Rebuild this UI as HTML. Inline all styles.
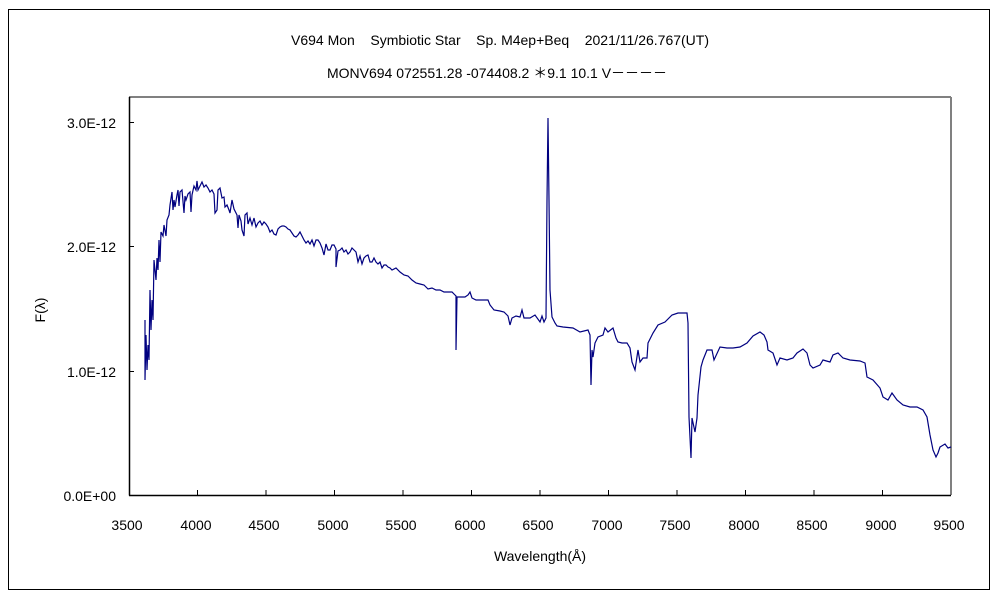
<!DOCTYPE html>
<html><head><meta charset="utf-8"><style>
body{margin:0;background:#fff}
svg text{font-family:"Liberation Sans","Noto Sans CJK JP",sans-serif;fill:#000}
</style></head><body>
<svg width="1000" height="600" xmlns="http://www.w3.org/2000/svg">
<rect x="0" y="0" width="1000" height="600" fill="#fff"/>
<rect x="8.5" y="9.5" width="981" height="580" fill="none" stroke="#000" stroke-width="1"/>
<text x="500" y="45" font-size="14" text-anchor="middle" xml:space="preserve">V694 Mon    Symbiotic Star    Sp. M4ep+Beq    2021/11/26.767(UT)</text>
<text x="497" y="78" font-size="14" text-anchor="middle">MONV694 072551.28 -074408.2 ＊9.1 10.1  V－－－－</text>
<line x1="129" y1="97" x2="951" y2="97" stroke="#808080" stroke-width="2"/>
<line x1="951" y1="97" x2="951" y2="495" stroke="#808080" stroke-width="2"/>
<line x1="129.5" y1="97" x2="129.5" y2="495.5" stroke="#000" stroke-width="1.5"/>
<line x1="129" y1="495.5" x2="951" y2="495.5" stroke="#000" stroke-width="1.5"/>
<g stroke="#000" stroke-width="1">
<line x1="129" y1="122.5" x2="134" y2="122.5"/><line x1="129" y1="246.5" x2="134" y2="246.5"/><line x1="129" y1="371.5" x2="134" y2="371.5"/>
<line x1="197.5" y1="495" x2="197.5" y2="490"/><line x1="266" y1="495" x2="266" y2="490"/><line x1="334.5" y1="495" x2="334.5" y2="490"/><line x1="403" y1="495" x2="403" y2="490"/><line x1="471.5" y1="495" x2="471.5" y2="490"/><line x1="540" y1="495" x2="540" y2="490"/><line x1="608.5" y1="495" x2="608.5" y2="490"/><line x1="677" y1="495" x2="677" y2="490"/><line x1="745.5" y1="495" x2="745.5" y2="490"/><line x1="814" y1="495" x2="814" y2="490"/><line x1="882.5" y1="495" x2="882.5" y2="490"/>
</g>
<g font-size="14" text-anchor="end">
<text x="116" y="128">3.0E-12</text><text x="116" y="252">2.0E-12</text><text x="116" y="377">1.0E-12</text><text x="116" y="501">0.0E+00</text>
</g>
<g font-size="14" text-anchor="middle">
<text x="127" y="530">3500</text><text x="196" y="530">4000</text><text x="264" y="530">4500</text><text x="333" y="530">5000</text><text x="401" y="530">5500</text><text x="470" y="530">6000</text><text x="538" y="530">6500</text><text x="607" y="530">7000</text><text x="675" y="530">7500</text><text x="744" y="530">8000</text><text x="812" y="530">8500</text><text x="881" y="530">9000</text><text x="949" y="530">9500</text>
</g>
<text x="540" y="561" font-size="14" text-anchor="middle">Wavelength(Å)</text>
<text transform="translate(45,310) rotate(-90)" font-size="14" text-anchor="middle">F(λ)</text>
<polyline fill="none" stroke="#000080" stroke-width="1.2" points="145,320 145,380 146,335 147,370 148,345 149,360 150,290 151,330 152,300 153,320 154,260 156,280 157,258 158,270 159,240 160,262 161,232 163,236 164,225 166,236 167,220 169,215 170,205 172,192 173,210 174,200 175,207 177,195 178,190 179,206 180,192 182,190 184,213 185,196 186,200 188,194 190,192 191,212 192,195 194,186 196,190 197,181 198,190 200,186 202,182 204,187 206,185 208,188 210,192 212,190 214,194 215,213 217,210 218,190 220,188 222,198 224,197 225,207 227,205 229,210 230,213 232,200 234,209 236,213 237,215 238,228 239,215 241,221 242,230 244,236 245,215 247,213 248,224 250,218 252,225 254,218 256,227 258,223 260,221 262,225 264,222 266,224 268,227 270,232 272,230 274,234 276,235 278,229 280,227 282,226 284,226 286,227 288,229 290,230 292,233 294,236 296,237 298,235 300,232 302,236 304,240 306,243 308,241 310,244 312,240 314,246 316,240 318,240 320,243 322,248 324,255 326,244 328,250 330,250 332,245 334,245 336,249 336,267 338,251 340,250 342,248 344,252 346,250 348,254 350,252 352,248 356,252 358,262 360,256 362,264 364,258 366,256 368,255 370,262 372,262 374,258 376,262 378,264 380,262 382,268 384,265 386,265 388,267 390,268 392,270 396,268 400,272 404,275 408,276 412,280 416,283 420,284 424,285 428,289 432,288 436,290 440,290 444,292 452,292 455,295 456,296 456,350 457,297 460,297 465,297 468,295 470,292 472,298 476,300 480,300 488,300 490,305 494,310 500,311 504,312 508,316 510,325 512,318 516,316 520,317 522,310 524,318 530,318 535,315 540,322 542,316 544,322 546,318 547,200 548,118 549,200 550,290 552,317 555,323 557,326 563,327 573,328 580,332 588,330 590,335 591,385 592,350 593,357 595,343 598,337 603,335 605,328 608,332 613,328 616,338 618,342 622,343 627,343 630,348 632,362 635,370 638,350 640,362 643,358 647,358 648,343 653,333 658,325 665,322 672,315 678,313 687,313 688,323 689,417 691,458 692,418 695,432 697,418 698,395 701,367 703,360 707,350 712,350 714,360 720,347 727,348 733,348 740,347 747,343 753,336 760,332 764,335 767,342 768,350 773,353 777,365 780,358 787,360 793,358 797,353 803,349 807,353 810,365 813,368 820,365 823,360 830,362 833,355 838,353 843,358 850,360 860,361 865,363 867,377 873,380 880,388 883,397 888,400 892,393 897,400 903,405 910,407 917,407 923,410 927,417 930,435 933,450 936,457 938,453 940,447 945,444 948,448 951,447"/>
</svg>
</body></html>
